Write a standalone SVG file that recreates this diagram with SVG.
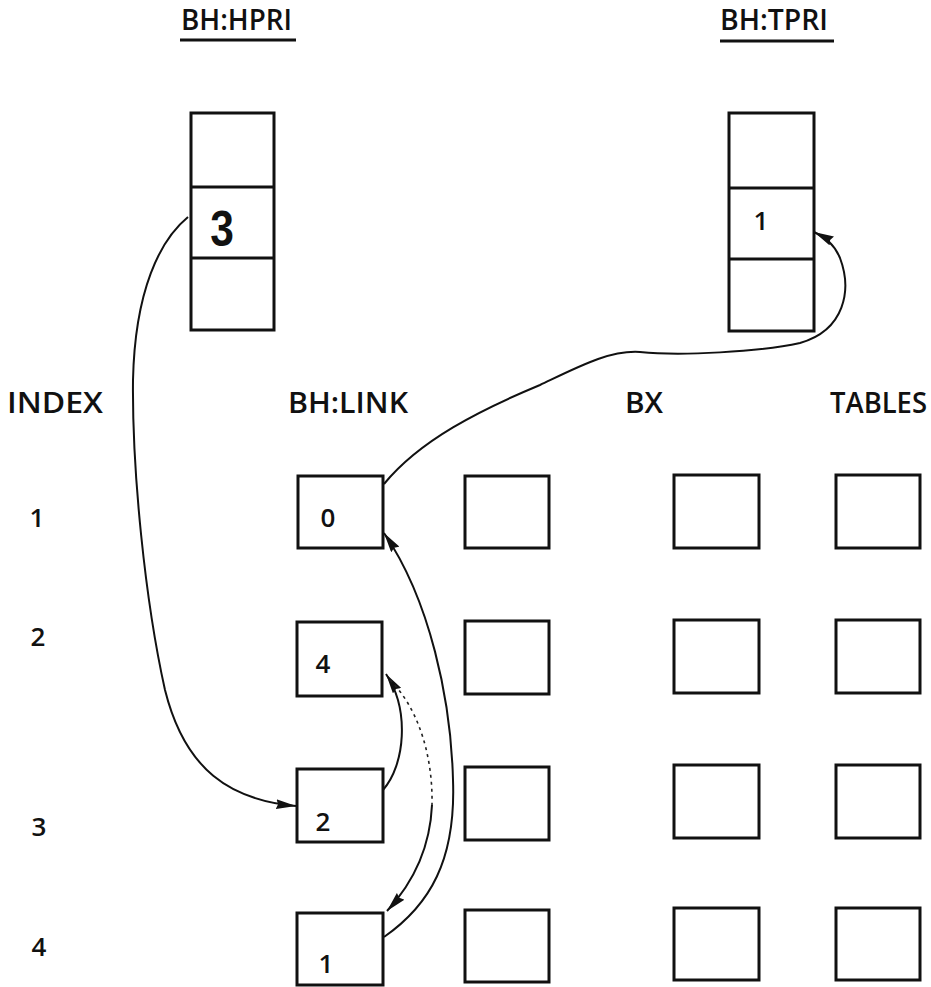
<svg xmlns="http://www.w3.org/2000/svg" width="931" height="987" viewBox="0 0 931 987">
<style>
  .box { fill: none; stroke: #111; stroke-width: 3; }
  .lbl { font-family: "Open Sans", "Liberation Sans", sans-serif; font-weight: 600; font-size: 28px; fill: #111; }
  .num { font-family: "Open Sans", "Liberation Sans", sans-serif; font-weight: 600; font-size: 26px; fill: #111; text-anchor: middle; }
  .ul { stroke: #111; stroke-width: 3; }
  .con { fill: none; stroke: #111; stroke-width: 2; }
  .dot { fill: none; stroke: #222; stroke-width: 1.6; stroke-dasharray: 3 4; }
</style>
<defs>
  <marker id="arr" viewBox="0 0 20 10" refX="20" refY="5" markerWidth="20" markerHeight="10" markerUnits="userSpaceOnUse" orient="auto">
    <path d="M0,0 L20,5 L0,10 L2,5 z" fill="#111"/>
  </marker>
</defs>
<rect width="931" height="987" fill="#fff"/>

<g id="hpri">
  <text class="lbl" x="181" y="30" textLength="111" lengthAdjust="spacingAndGlyphs">BH:HPRI</text>
  <line class="ul" x1="180" y1="40" x2="296" y2="40"/>
  <rect class="box" x="191" y="113" width="83" height="217"/>
  <line class="box" x1="191" y1="187" x2="274" y2="187"/>
  <line class="box" x1="191" y1="258" x2="274" y2="258"/>
  <text x="222" y="246" font-family="Liberation Sans, sans-serif" font-weight="bold" font-size="50" fill="#111" text-anchor="middle" transform="translate(222 0) scale(0.85 1) translate(-222 0)">3</text>
</g>

<g id="tpri">
  <text class="lbl" x="720" y="30" textLength="108" lengthAdjust="spacingAndGlyphs">BH:TPRI</text>
  <line class="ul" x1="720" y1="41" x2="834" y2="41"/>
  <rect class="box" x="729" y="113" width="85" height="218"/>
  <line class="box" x1="729" y1="188" x2="814" y2="188"/>
  <line class="box" x1="729" y1="259" x2="814" y2="259"/>
  <text class="num" x="761" y="230">1</text>
</g>

<g id="headers">
  <text class="lbl" x="7" y="413" textLength="96" lengthAdjust="spacingAndGlyphs">INDEX</text>
  <text class="lbl" x="288" y="413" textLength="120" lengthAdjust="spacingAndGlyphs">BH:LINK</text>
  <text class="lbl" x="625" y="413" textLength="38" lengthAdjust="spacingAndGlyphs">BX</text>
  <text class="lbl" x="830" y="413" textLength="97" lengthAdjust="spacingAndGlyphs">TABLES</text>
</g>

<g id="index">
  <text class="num" x="37" y="527">1</text>
  <text class="num" x="38" y="646">2</text>
  <text class="num" x="39" y="836">3</text>
  <text class="num" x="39" y="956">4</text>
</g>

<g id="row1">
  <rect class="box" x="298" y="476" width="85" height="72"/>
  <text class="num" x="328" y="527">0</text>
  <rect class="box" x="465" y="476" width="84" height="72"/>
  <rect class="box" x="674" y="475" width="85" height="73"/>
  <rect class="box" x="836" y="475" width="84" height="73"/>
</g>
<g id="row2">
  <rect class="box" x="297" y="622" width="85" height="74"/>
  <text class="num" x="323" y="673">4</text>
  <rect class="box" x="465" y="621" width="84" height="73"/>
  <rect class="box" x="674" y="620" width="85" height="73"/>
  <rect class="box" x="836" y="620" width="84" height="73"/>
</g>
<g id="row3">
  <rect class="box" x="297" y="769" width="86" height="73"/>
  <text class="num" x="323" y="831">2</text>
  <rect class="box" x="465" y="767" width="84" height="73"/>
  <rect class="box" x="674" y="765" width="85" height="73"/>
  <rect class="box" x="836" y="765" width="84" height="73"/>
</g>
<g id="row4">
  <rect class="box" x="297" y="913" width="86" height="72"/>
  <text class="num" x="326" y="973">1</text>
  <rect class="box" x="465" y="910" width="84" height="72"/>
  <rect class="box" x="674" y="908" width="85" height="72"/>
  <rect class="box" x="836" y="908" width="84" height="72"/>
</g>

<g id="connectors">
  <path class="con" d="M188 217 C160 240, 135 290, 133 380 C132 470, 145 600, 165 690 C185 770, 230 800, 296 806" marker-end="url(#arr)"/>
  <path class="con" d="M384 484 C420 440, 480 410, 540 385 C580 366, 610 350, 640 352 C680 356, 760 352, 800 343 C845 330, 852 290, 840 258 C834 244, 826 238, 814 232" marker-end="url(#arr)"/>
  <path class="con" d="M384 937 C430 905, 456 860, 453 780 C451 700, 430 600, 384 533" marker-end="url(#arr)"/>
  <path class="con" d="M383 790 C405 765, 410 710, 386 674" marker-end="url(#arr)"/>
  <path class="dot" d="M390 680 C418 708, 433 755, 432 805"/>
  <path class="con" d="M432 805 C430 850, 412 884, 387 911" marker-end="url(#arr)"/>
</g>
</svg>
